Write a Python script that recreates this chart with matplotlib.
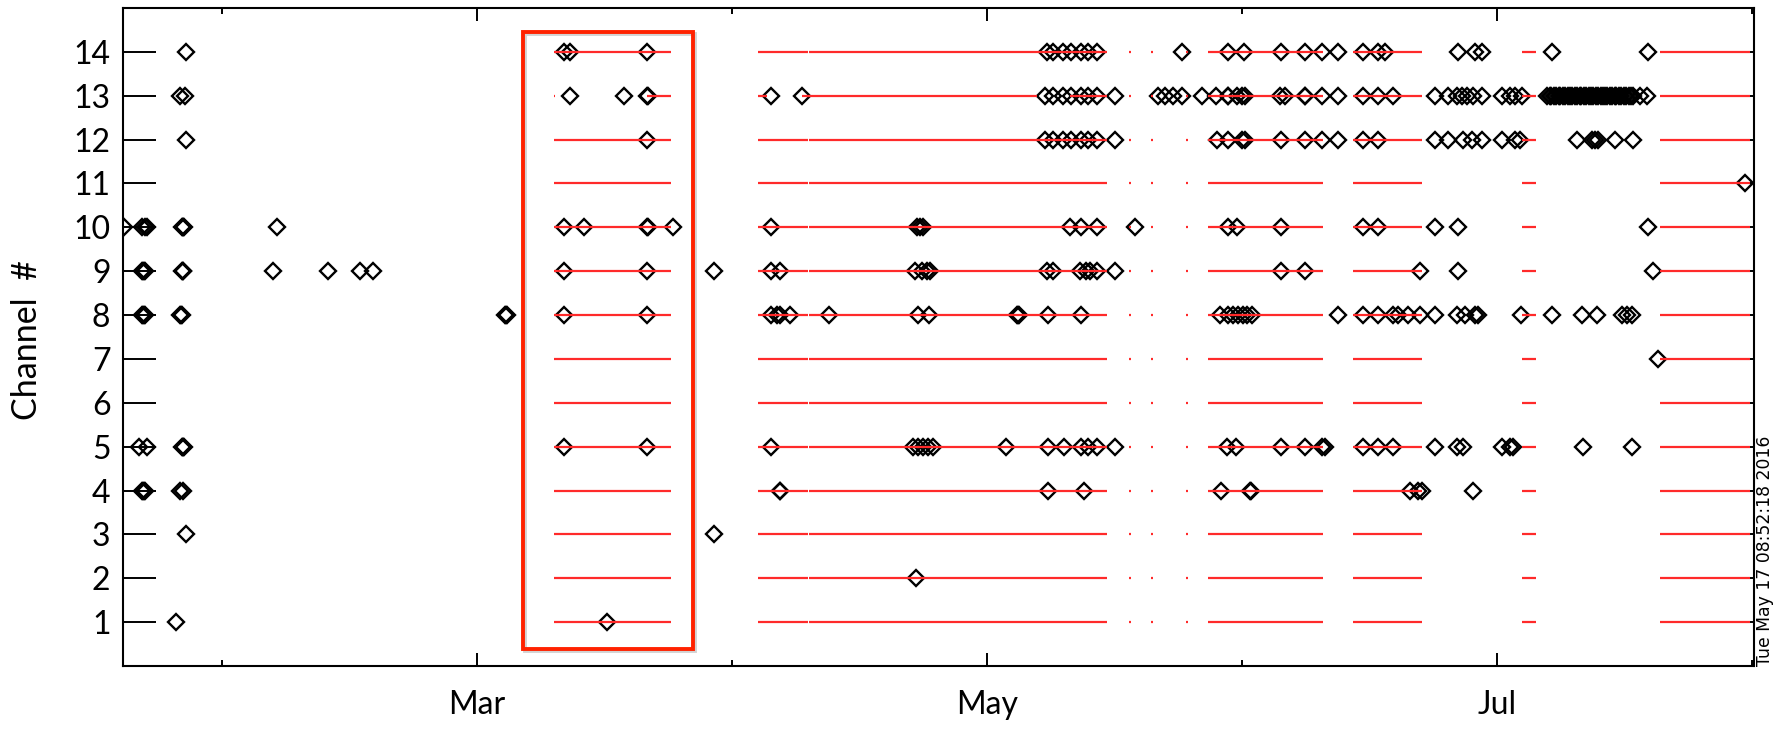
import matplotlib
matplotlib.use("Agg")
import matplotlib.pyplot as plt
import matplotlib.patheffects as pe
from matplotlib.patches import Rectangle

plt.rcParams['font.family'] = ['Lato', 'DejaVu Sans']

# x axis: day of year 2016 (Mar 1 = 61, May 1 = 122, Jul 1 = 183)
x_range = (18.67, 213.75)
month_ticks = [61, 122, 183]
month_labels = ["Mar", "May", "Jul"]
minor_ticks = [30.5, 91.5, 152.5, 213.5]
channels = list(range(1, 15))

# data coverage periods (red lines), same for all channels except 13
coverage = [(70.2, 84.2), (94.6, 100.65), (100.75, 136.4), (139.0, 139.25),
            (141.6, 141.85), (145.8, 146.05), (148.4, 162.2), (165.8, 174.0),
            (186.0, 187.7), (202.5, 213.3)]
coverage_ch13 = [(70.2, 70.35), (81.4, 84.2), (94.6, 95.7), (99.9, 128.0),
                 (132.0, 136.4), (139.0, 139.25), (141.6, 141.85), (145.8, 146.05),
                 (148.4, 162.2), (165.8, 174.0), (186.0, 187.7), (202.5, 213.3)]

# event times per channel (diamonds)
ch14 = [26.2, 71.4, 72.2, 81.4, 129.2, 129.9, 131.1, 132.1, 133.3, 134.1, 135.2,
        145.4, 150.9, 152.7, 157.2, 160.0, 162.1, 164.0, 167.0, 168.8, 169.6,
        178.3, 180.4, 181.2, 189.6, 201.1]
ch13 = [25.5, 26.1, 72.2, 78.6, 81.4, 81.5, 96.2, 99.9, 129.0, 129.9, 131.1,
        132.1, 133.3, 134.1, 135.2, 137.3, 142.5, 143.3, 144.3, 145.3, 147.7,
        149.4, 150.8, 150.9, 151.9, 152.5, 152.9, 157.1, 157.7, 160.0, 160.1,
        162.1, 164.0, 167.0, 168.8, 170.6, 175.6, 177.1, 178.2, 178.8, 179.4,
        180.1, 181.2, 183.6, 184.6, 185.2, 186.0,
        189.0, 189.3, 189.5, 189.8, 190.1, 190.4, 190.6, 190.9, 191.2, 191.5,
        191.8, 192.0, 192.3, 192.6, 192.9, 193.1, 193.4, 193.7, 194.0, 194.3,
        194.5, 194.8, 195.1, 195.4, 195.7, 195.9, 196.2, 196.5, 196.8, 197.1,
        197.3, 197.6, 197.9, 198.2, 198.5, 198.8, 199.0, 199.3, 200.1, 201.0]
ch12 = [26.2, 81.4, 129.0, 129.9, 131.1, 132.1, 133.3, 134.1, 135.2, 137.3,
        149.5, 150.8, 152.5, 152.9, 157.2, 160.0, 162.1, 164.0, 167.0, 168.8,
        175.6, 177.1, 178.9, 180.0, 181.2, 183.6, 185.2, 185.8, 192.6, 194.4,
        194.7, 195.1, 197.1, 199.3]
ch11 = [212.7]
ch10 = [18.8, 21.0, 21.3, 21.5, 25.7, 25.8, 25.9, 26.0, 37.1, 71.4, 73.8, 81.4,
        81.5, 84.5, 96.2, 113.7, 114.0, 114.4, 131.9, 133.3, 135.2, 139.7,
        150.8, 151.9, 157.2, 167.0, 168.8, 175.6, 178.3, 201.1]
ch9 = [21.0, 21.1, 21.2, 21.3, 25.7, 25.8, 25.9, 36.6, 43.2, 47.0, 48.6, 71.4,
       81.4, 89.4, 96.2, 97.3, 113.4, 114.2, 114.8, 115.2, 129.2, 129.9, 133.1,
       133.9, 134.3, 135.2, 137.3, 157.2, 160.0, 173.8, 178.3, 201.7]
ch8 = [21.0, 21.1, 21.2, 21.3, 25.5, 25.6, 25.7, 64.4, 64.5, 64.6, 71.4, 81.4,
       96.2, 96.9, 97.3, 98.5, 103.1, 113.8, 115.1, 125.6, 125.7, 125.8, 129.3,
       133.3, 149.9, 150.8, 151.4, 152.0, 152.6, 153.1, 153.7, 164.0, 167.0,
       168.8, 170.6, 171.2, 172.4, 173.8, 175.6, 178.2, 179.2, 180.4, 180.7,
       185.9, 189.6, 193.2, 195.0, 198.0, 198.6, 199.2]
ch7 = [202.3]
ch6 = []
ch5 = [20.6, 21.6, 25.7, 25.8, 25.9, 26.0, 71.4, 81.4, 96.2, 113.2, 113.8,
       114.4, 115.0, 115.6, 124.3, 129.3, 131.2, 133.3, 134.1, 135.2, 137.3,
       150.7, 151.8, 157.2, 160.0, 162.1, 162.4, 167.0, 168.8, 170.6, 175.6,
       178.2, 178.9, 183.6, 184.6, 184.9, 193.3, 199.2]
ch4 = [21.0, 21.1, 21.2, 21.3, 25.5, 25.9, 97.2, 97.3, 129.3, 133.6, 150.0,
       153.5, 153.6, 172.6, 173.6, 174.1, 180.2]
ch3 = [26.2, 89.4]
ch2 = [113.5]
ch1 = [25.0, 76.6]
events = [ch1, ch2, ch3, ch4, ch5, ch6, ch7, ch8, ch9, ch10, ch11, ch12, ch13, ch14]

# highlighted period (red box)
box_x = (66.5, 86.8)
box_y = (0.385, 14.46)
timestamp = "Tue May 17 08:52:18 2016"

RED = "#ff2a2a"

fig = plt.figure(figsize=(17.74, 7.51), dpi=100)
ax = fig.add_axes([0.0693, 0.1132, 0.9194, 0.8761])

for ch, times in zip(channels, events):
    segs = coverage_ch13 if ch == 13 else coverage
    ax.hlines([ch] * len(segs), [s for s, e in segs], [e for s, e in segs],
              color=RED, lw=1.6, zorder=3)
    if times:
        ax.plot(times, [ch] * len(times), "D", mfc="none", mec="black",
                ms=8.6, mew=1.7, zorder=2)

ax.add_patch(Rectangle((box_x[0], box_y[0]), box_x[1] - box_x[0], box_y[1] - box_y[0],
                       fill=False, edgecolor="#ff2200", lw=2.8, zorder=5,
                       path_effects=[pe.SimpleLineShadow(offset=(1.5, -1.5),
                                                          shadow_color="gray", alpha=0.35),
                                     pe.Normal()]))

ax.set_xlim(*x_range)
ax.set_ylim(0, 15)
ax.set_yticks(channels)
ax.set_xticks(month_ticks)
ax.set_xticklabels(month_labels)
ax.set_xticks(minor_ticks, minor=True)

ax.tick_params(axis="y", which="major", direction="in", length=23.8, width=1.4,
               left=True, right=True, labelsize=23, pad=9)
ax.tick_params(axis="x", which="major", direction="in", length=9.4, width=1.4,
               top=True, bottom=True, labelsize=23, pad=17)
ax.tick_params(axis="x", which="minor", direction="in", length=4.5, width=1.4,
               top=True, bottom=True)
for sp in ax.spines.values():
    sp.set_linewidth(1.5)

ax.set_ylabel("Channel  #", fontsize=24.5)
ax.yaxis.set_label_coords(-0.049, 0.495)

ax.text(1.0067, 0.0, timestamp, rotation=90, ha="center", va="bottom",
        transform=ax.transAxes, fontsize=12.4, family=["DejaVu Sans"])

fig.savefig("out.png", dpi=100)
